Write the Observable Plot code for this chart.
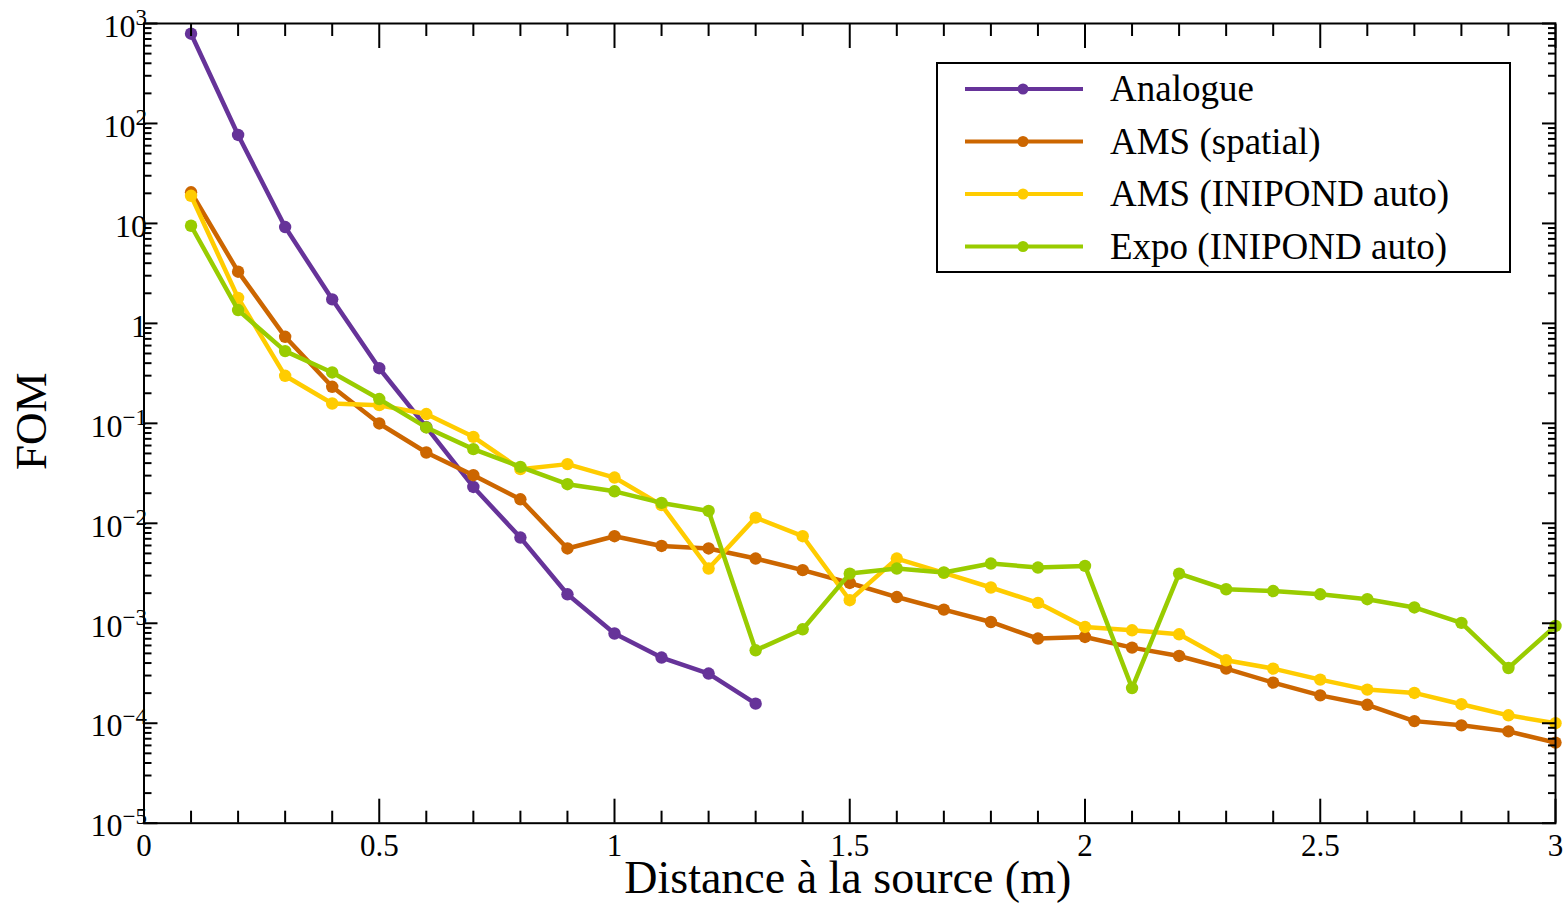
<!DOCTYPE html>
<html>
<head>
<meta charset="utf-8">
<script src="https://cdn.jsdelivr.net/npm/d3@7"></script>
<script src="https://cdn.jsdelivr.net/npm/@observablehq/plot@0.6"></script>
<style>
  html, body { margin: 0; padding: 0; background: #fff; }
  svg { display: block; }
</style>
</head>
<body>
<script>
// ---- data ----
const distances = [0.1,0.2,0.3,0.4,0.5,0.6,0.7,0.8,0.9,1.0,1.1,1.2,1.3,1.4,1.5,1.6,1.7,1.8,1.9,2.0,2.1,2.2,2.3,2.4,2.5,2.6,2.7,2.8,2.9,3.0];
const seriesNames = ["Analogue", "AMS (spatial)", "AMS (INIPOND auto)", "Expo (INIPOND auto)"];
const seriesColors = ["#663399", "#cc6600", "#ffcc00", "#99cc00"];

const analogue = [790, 76.7, 9.2, 1.74, 0.356, 0.0916, 0.0231, 0.0072, 0.00195, 0.00079, 0.000454, 0.000314, 0.000157];
const amsSpatial = [20.5, 3.29, 0.734, 0.232, 0.0997, 0.0511, 0.0303, 0.0174, 0.0056, 0.00743, 0.00594, 0.0056, 0.00444, 0.0034, 0.00253, 0.00183, 0.00137, 0.00103, 0.000703, 0.00073, 0.000571, 0.000471, 0.000352, 0.000255, 0.00019, 0.000153, 0.000105, 0.0000953, 0.0000829, 0.000064];
const amsInipond = [18.9, 1.80, 0.299, 0.158, 0.152, 0.124, 0.0733, 0.0348, 0.0391, 0.0287, 0.0152, 0.00353, 0.0114, 0.00743, 0.0017, 0.00444, 0.00319, 0.00228, 0.0016, 0.000918, 0.000851, 0.000776, 0.000426, 0.000352, 0.000273, 0.000217, 0.000201, 0.000155, 0.00012, 0.0001];
const expoInipond = [9.48, 1.36, 0.528, 0.323, 0.175, 0.091, 0.0552, 0.0367, 0.0246, 0.0209, 0.016, 0.0133, 0.000537, 0.000871, 0.00314, 0.00353, 0.00322, 0.00396, 0.00361, 0.00375, 0.000225, 0.00314, 0.00219, 0.0021, 0.00195, 0.00174, 0.00144, 0.00101, 0.000357, 0.00094];

const xMajorTicks = [0, 0.5, 1, 1.5, 2, 2.5, 3];
const xTickLabels = ["0", "0.5", "1", "1.5", "2", "2.5", "3"];
const xMinorTicks = d3.range(0, 31).map(i => i / 10).filter(v => Math.abs(v * 2 - Math.round(v * 2)) > 1e-9);
const yExponents = [-5, -4, -3, -2, -1, 0, 1, 2, 3];
const yMajorTicks = yExponents.map(e => Math.pow(10, e));
const yMinorTicks = d3.range(-5, 3).flatMap(e => d3.range(2, 10).map(m => m * Math.pow(10, e)));

const xLabel = "Distance à la source (m)";
const yLabel = "FOM";

// ---- build tidy table ----
const allSeries = [analogue, amsSpatial, amsInipond, expoInipond];
const table = allSeries.map((vals, si) => vals.map((v, i) => ({x: distances[i], y: v, s: seriesNames[si]})));

const FONT = "'Liberation Serif', 'Times New Roman', Times, serif";
const W = 1566, H = 906;

const lineMarks = table.flatMap((rows, si) => [
  Plot.line(rows, {x: "x", y: "y", stroke: seriesColors[si], strokeWidth: 4.5}),
  Plot.dot(rows, {x: "x", y: "y", r: 6.2, fill: seriesColors[si], stroke: "none"})
]);

const supMap = e => String(e).replace("-", "\u2212");
const noText = () => "";

const chart = Plot.plot({
  width: W,
  height: H,
  marginLeft: 143.5,
  marginRight: 11,
  marginTop: 23,
  marginBottom: 83.3,
  style: {fontFamily: FONT, background: "#fff", color: "#000"},
  x: {domain: [0, 3]},
  y: {type: "log", domain: [1e-5, 1e3]},
  marks: [
    ...lineMarks,
    // inward ticks: bottom & top
    Plot.axisX({anchor: "bottom", ticks: xMajorTicks, tickSize: -24, strokeWidth: 2, fill: "none", label: null, tickFormat: noText}),
    Plot.axisX({anchor: "bottom", ticks: xMinorTicks, tickSize: -12, strokeWidth: 2, fill: "none", label: null, tickFormat: noText}),
    Plot.axisX({anchor: "top", ticks: xMajorTicks, tickSize: -24, strokeWidth: 2, fill: "none", label: null, tickFormat: noText}),
    Plot.axisX({anchor: "top", ticks: xMinorTicks, tickSize: -12, strokeWidth: 2, fill: "none", label: null, tickFormat: noText}),
    // inward ticks: left & right
    Plot.axisY({anchor: "left", ticks: yMajorTicks, tickSize: -14, strokeWidth: 2, fill: "none", label: null, tickFormat: noText}),
    Plot.axisY({anchor: "left", ticks: yMinorTicks, tickSize: -8, strokeWidth: 2, fill: "none", label: null, tickFormat: noText}),
    Plot.axisY({anchor: "right", ticks: yMajorTicks, tickSize: -14, strokeWidth: 2, fill: "none", label: null, tickFormat: noText}),
    Plot.axisY({anchor: "right", ticks: yMinorTicks, tickSize: -8, strokeWidth: 2, fill: "none", label: null, tickFormat: noText}),
    // tick labels
    Plot.axisX({anchor: "bottom", ticks: xMajorTicks, tickSize: 0, tickPadding: 11, fontSize: 31, label: null, fill: "#000",
      tickFormat: d => xTickLabels[xMajorTicks.indexOf(d)]}),
    Plot.axisY({anchor: "left", ticks: yMajorTicks, tickSize: 0, tickPadding: -3, fontSize: 32, dy: 3, label: null, fill: "#000",
      tickFormat: d => {
        const e = Math.round(Math.log10(d));
        if (e === 0) return "1";
        if (e === 1) return "10";
        return "10^" + supMap(e);
      }}),
    Plot.frame({stroke: "#000", strokeWidth: 2}),
    Plot.text([xLabel], {text: d => d, frameAnchor: "bottom", textAnchor: "middle", lineAnchor: "middle", dy: 55, dx: -2, fontSize: 46, fill: "#000"}),
    Plot.text([yLabel], {text: d => d, frameAnchor: "left", textAnchor: "middle", lineAnchor: "middle", rotate: -90, dx: -112, dy: -2, fontSize: 45, fill: "#000"})
  ]
});

document.body.appendChild(chart);

// superscripts for the log tick labels
d3.select(chart).selectAll("text").each(function() {
  const t = this.textContent;
  if (this.childElementCount === 0 && /^10\^/.test(t)) {
    const exp = t.slice(3);
    const sel = d3.select(this);
    sel.text("10");
    sel.append("tspan").attr("dy", -12).attr("font-size", 23).text(exp);
  }
});

// legend box
const svg = d3.select(chart);
const lg = svg.append("g").attr("font-family", FONT).attr("text-anchor", "start");
lg.append("rect").attr("x", 937).attr("y", 63).attr("width", 573).attr("height", 209)
  .attr("fill", "#fff").attr("stroke", "#000").attr("stroke-width", 2);
const rowY = [89, 141.5, 194, 246.5];
seriesNames.forEach((name, i) => {
  const y = rowY[i];
  lg.append("line").attr("x1", 965).attr("x2", 1083).attr("y1", y).attr("y2", y)
    .attr("stroke", seriesColors[i]).attr("stroke-width", 4);
  lg.append("circle").attr("cx", 1023).attr("cy", y).attr("r", 5.5).attr("fill", seriesColors[i]);
  lg.append("text").attr("x", 1110).attr("y", y + 12).attr("font-size", 37).attr("fill", "#000")
    .attr("text-anchor", "start").text(name);
});
</script>
</body>
</html>
